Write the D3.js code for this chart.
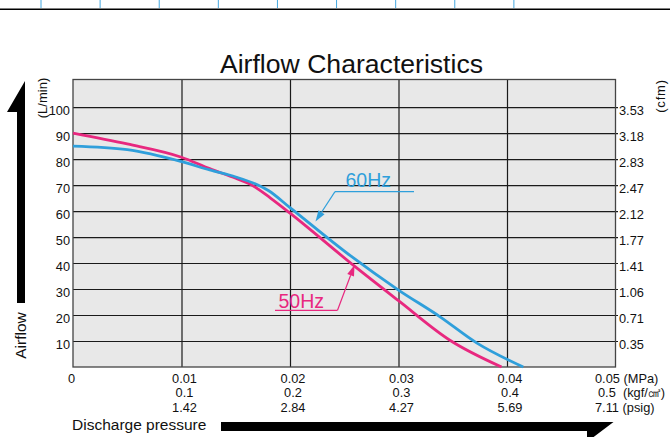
<!DOCTYPE html>
<html>
<head>
<meta charset="utf-8">
<script src="https://cdn.jsdelivr.net/npm/d3@7"></script>
<style>
  html, body { margin: 0; padding: 0; background: #fff; }
  svg { display: block; font-family: "Liberation Sans", Arial, Helvetica, sans-serif; }
</style>
</head>
<body>
<svg id="chart" width="670" height="437"></svg>
<script>
// ---------------- data ----------------
const title = "Airflow Characteristics";
// Left axis (L/min) ticks and matching right axis (cfm) labels
const flowTicks = [10, 20, 30, 40, 50, 60, 70, 80, 90, 100];
const cfmLabels = ["0.35", "0.71", "1.06", "1.41", "1.77", "2.12", "2.47", "2.83", "3.18", "3.53"];
// Bottom axis ticks (MPa) and matching kgf/cm2 and psig labels
const mpaTicks = [0.01, 0.02, 0.03, 0.04];
const mpaLabels = ["0.01", "0.02", "0.03", "0.04"];
const kgfLabels = ["0.1", "0.2", "0.3", "0.4"];
const psigLabels = ["1.42", "2.84", "4.27", "5.69"];
const endLabels = ["0.05 (MPa)", "0.5  (kgf/㎠)", "7.11 (psig)"];
// Series: discharge pressure (MPa) vs airflow (L/min)
const pressure60 = [0, 0.005, 0.0100, 0.0126, 0.0150, 0.0166, 0.0180, 0.0200, 0.0255, 0.0300, 0.0338, 0.0372, 0.0415];
const flow60     = [85, 83.6, 79.0, 75.8, 73.1, 70.8, 67.9, 61.3, 43.0, 29.6, 19.4, 9.3, 0];
const pressure50 = [0, 0.005, 0.0100, 0.0126, 0.0150, 0.0163, 0.0182, 0.0200, 0.0260, 0.0300, 0.0347, 0.0395];
const flow50     = [90, 85.8, 80.7, 76.3, 72.6, 70.4, 65.0, 59.2, 38.6, 25.5, 10.4, 0];
const seriesNames = ["60Hz", "50Hz"];
const topTickIdx = [1, 2, 3, 4, 5, 6, 7, 8, 9];

// ---------------- layout ----------------
const svg = d3.select("#chart");
const L = 73, R = 615.5, T = 79.5, B = 367;
const x = d3.scaleLinear().domain([0, 0.05]).range([L, R]);
const y = d3.scaleLinear().domain([0, 110.6]).range([B, T]);
const colors = { "60Hz": "#2f9fdb", "50Hz": "#e8287f" };

// top decorative rule with blue ticks
const topScale = d3.scaleLinear().domain([0, 10]).range([-18.1, 573]);
svg.append("line").attr("x1", 0).attr("x2", 670).attr("y1", 9.3).attr("y2", 9.3)
  .attr("stroke", "#000").attr("stroke-width", 1.6);
svg.selectAll("line.topTick").data(topTickIdx).join("line")
  .attr("class", "topTick")
  .attr("x1", d => topScale(d)).attr("x2", d => topScale(d))
  .attr("y1", 0).attr("y2", 8)
  .attr("stroke", "#45a8e0").attr("stroke-width", 1);

// title
svg.append("text").attr("x", 351.5).attr("y", 73).attr("text-anchor", "middle")
  .attr("font-size", 26.6).attr("fill", "#111").text(title);

// plot background
svg.append("rect").attr("x", L).attr("y", T).attr("width", R - L).attr("height", B - T)
  .attr("fill", "#e8e8e8");

// horizontal gridlines via axis
const gy = svg.append("g").attr("transform", `translate(${L},0)`)
  .call(d3.axisRight(y).tickValues(flowTicks).tickSize(R - L + 2.5).tickFormat(""));
gy.select(".domain").remove();
gy.selectAll(".tick line").attr("stroke", "#1a1a1a").attr("stroke-width", 1.2);

// vertical gridlines via axis
const gx = svg.append("g").attr("transform", `translate(0,${T})`)
  .call(d3.axisBottom(x).tickValues(mpaTicks).tickSize(B - T).tickFormat(""));
gx.select(".domain").remove();
gx.selectAll(".tick line").attr("stroke", "#1a1a1a").attr("stroke-width", 1.2);

// frame
svg.append("rect").attr("x", L).attr("y", T).attr("width", R - L).attr("height", B - T)
  .attr("fill", "none").attr("stroke", "#444").attr("stroke-width", 1.3);

// left labels
const ly = svg.append("g").attr("transform", `translate(${L},0)`)
  .call(d3.axisLeft(y).tickValues(flowTicks).tickSize(0).tickPadding(3).tickFormat(d3.format("d")));
ly.select(".domain").remove();
ly.selectAll("text").attr("font-size", 12.8).attr("fill", "#111")
  .attr("font-family", "Liberation Sans, Arial, sans-serif").attr("dy", "0.55em");

// right labels (cfm)
const ry = svg.append("g").attr("transform", `translate(${R},0)`)
  .call(d3.axisRight(y).tickValues(flowTicks).tickSize(0).tickPadding(3.5)
    .tickFormat((d, i) => cfmLabels[i]));
ry.select(".domain").remove();
ry.selectAll("text").attr("font-size", 12.8).attr("fill", "#111")
  .attr("font-family", "Liberation Sans, Arial, sans-serif").attr("dy", "0.55em");

// bottom labels: three rows
const rows = [mpaLabels, kgfLabels, psigLabels];
const rowY = [383, 397, 411.5];
rows.forEach((labels, r) => {
  svg.selectAll(`text.brow${r}`).data(mpaTicks).join("text")
    .attr("class", `brow${r}`)
    .attr("x", d => x(d) + 3).attr("y", rowY[r])
    .attr("text-anchor", "middle").attr("font-size", 12.8).attr("fill", "#111")
    .text((d, i) => labels[i]);
});
svg.append("text").attr("x", x(0) - 1.5).attr("y", rowY[0]).attr("text-anchor", "middle")
  .attr("font-size", 12.8).attr("fill", "#111").text("0");
const endX = [595, 598, 595];
endLabels.forEach((t, r) => {
  svg.append("text").attr("x", endX[r]).attr("y", rowY[r]).attr("font-size", 12.8)
    .attr("fill", "#111").attr("xml:space", "preserve").style("white-space", "pre").text(t);
});

// unit labels
svg.append("text").attr("transform", "translate(47,98) rotate(-90)").attr("text-anchor", "middle")
  .attr("font-size", 13).attr("fill", "#111").text("(L/min)");
svg.append("text").attr("transform", "translate(665,96) rotate(-90)").attr("text-anchor", "middle")
  .attr("font-size", 13).attr("letter-spacing", 0.8).attr("fill", "#111").text("(cfm)");

// axis titles with arrows
svg.append("text").attr("transform", "translate(26,335.5) rotate(-90)").attr("text-anchor", "middle")
  .attr("font-size", 15.5).attr("fill", "#111").text("Airflow");
svg.append("path").attr("d", "M17,303 L17,112 L7,112 L25,81 L25,303 Z").attr("fill", "#000");
svg.append("text").attr("x", 72).attr("y", 430).attr("font-size", 15.5).attr("fill", "#111")
  .text("Discharge pressure");
svg.append("path").attr("d", "M221,422 L613.5,422 L587,442 L587,431 L221,431 Z").attr("fill", "#000");

// curves
const line = d3.line().x(d => x(d[0])).y(d => y(d[1])).curve(d3.curveMonotoneX);
const data60 = pressure60.map((p, i) => [p, flow60[i]]);
const data50 = pressure50.map((p, i) => [p, flow50[i]]);
svg.append("path").datum(data50).attr("d", line).attr("fill", "none")
  .attr("stroke", colors["50Hz"]).attr("stroke-width", 2.8);
svg.append("path").datum(data60).attr("d", line).attr("fill", "none")
  .attr("stroke", colors["60Hz"]).attr("stroke-width", 2.8);

// annotations
function annotate(name, textX, textY, ulX1, ulX2, ulY, tipX, tipY, startX) {
  const c = colors[name];
  svg.append("text").attr("x", textX).attr("y", textY).attr("font-size", 19.5)
    .attr("fill", c).text(name);
  svg.append("line").attr("x1", ulX1).attr("x2", ulX2).attr("y1", ulY).attr("y2", ulY)
    .attr("stroke", c).attr("stroke-width", 1.2);
  const ang = Math.atan2(tipY - ulY, tipX - startX);
  const len = 11, half = 3.6;
  const bx = tipX - len * Math.cos(ang), by = tipY - len * Math.sin(ang);
  svg.append("line").attr("x1", startX).attr("y1", ulY).attr("x2", bx).attr("y2", by)
    .attr("stroke", c).attr("stroke-width", 1.2);
  const px = -Math.sin(ang) * half, py = Math.cos(ang) * half;
  svg.append("path")
    .attr("d", `M${tipX},${tipY} L${bx + px},${by + py} L${bx - px},${by - py} Z`)
    .attr("fill", c);
}
annotate("60Hz", 345.5, 186.5, 335, 414, 191.7, 315.5, 221.5, 335);
annotate("50Hz", 278.5, 308, 275, 337.5, 310.3, 354.5, 265, 337.5);
</script>
</body>
</html>
